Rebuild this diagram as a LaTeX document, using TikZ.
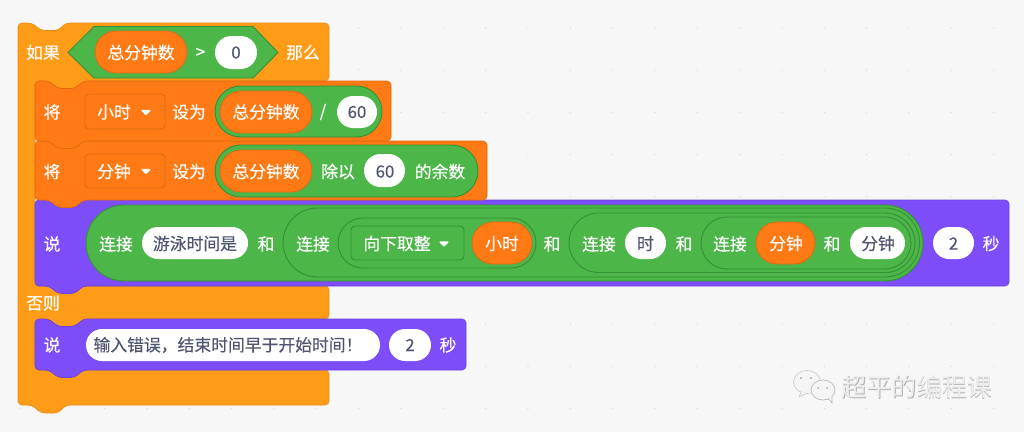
\documentclass[tikz,border=0pt]{standalone}
\usepackage{fontspec}
\setmainfont{Noto Sans CJK SC}
\newfontfamily\medfont[FakeBold=0.35]{Noto Sans CJK SC}
\definecolor{bgc}{HTML}{F7F7F8}
\definecolor{dotc}{HTML}{DADADC}
\definecolor{ctrl}{HTML}{FF9C17}
\definecolor{ctrld}{HTML}{E8891A}
\definecolor{var}{HTML}{FF7A14}
\definecolor{vard}{HTML}{DE6A12}
\definecolor{grn}{HTML}{4DB649}
\definecolor{grnd}{HTML}{369135}
\definecolor{pur}{HTML}{7E4DFA}
\definecolor{purd}{HTML}{6A3FDC}
\definecolor{ink}{HTML}{4F5570}
\newcounter{nn}
\tikzset{
  lbl/.style={text=white,inner sep=0pt,font=\medfont\fontsize{12.6pt}{14pt}\selectfont},
  dlbl/.style={lbl,text=ink},
  ctrlshape/.style={fill=ctrl,draw=ctrld,line width=.5pt,rounded corners=3pt},
  varblock/.style={fill=var,draw=vard,line width=.5pt,rounded corners=3pt},
  purblock/.style={fill=pur,draw=purd,line width=.5pt,rounded corners=3pt},
  greenpill/.style={fill=grn,draw=grnd,line width=.7pt},
  ringpill/.style={draw=grnd,line width=.7pt},
  varpill/.style={fill=var,draw=vard,line width=.6pt},
  whitepill/.style={fill=white,draw=none},
  varmenu/.style={fill=var,draw=vard,line width=.7pt,rounded corners=3pt},
  grnmenu/.style={fill=grn,draw=grnd,line width=.7pt,rounded corners=3pt},
  caret/.style={fill=white,draw=white,line width=.8pt,line join=round},
}
\newcommand\blk[5]{\draw[#5] (#1,#2)--({#1+14},#2)--({#1+23},{#2+7.5})--({#1+40},{#2+7.5})--({#1+48},#2)--(#3,#2)--(#3,#4)--({#1+48},#4)--({#1+40},{#4+7.5})--({#1+23},{#4+7.5})--({#1+14},#4)--(#1,#4)--cycle;}
\newcommand\pill[5]{\pgfmathsetmacro\rr{(#4-#2)/2*0.75}\draw[#5,rounded corners=\rr pt] (#1,#2) rectangle (#3,#4);}
\newcommand\lab[4][lbl]{\stepcounter{nn}\node[#1] (t\thenn) at (#2,#3) {#4};}
\newcommand\care[2]{\draw[caret] ({#1-4},{#2-2}) -- ({#1+4},{#2-2}) -- (#1,{#2+2}) -- cycle;}
\begin{document}
\begin{tikzpicture}[x=.75pt,y=-.75pt]
\useasboundingbox (0,0) rectangle (1024,432);
\fill[bgc] (0,0) rectangle (1024,432);
\foreach \i in {0,...,24}\foreach \j in {0,...,10}
  \fill[dotc] ({20+\i*42.33},{27.7+\j*42.33}) circle (.7);
% C block
\draw[ctrlshape] (18,23)--(32,23)--(41,30.5)--(58,30.5)--(66,23)--(329,23)--(329,81)--(83,81)--(75,89)--(58,89)--(49,81)--(35,81)--(35,286)--(329,286)--(329,319)--(83,319)--(75,327)--(58,327)--(49,319)--(35,319)--(35,370)--(329,370)--(329,405)--(66,405)--(58,413)--(41,413)--(32,405)--(18,405)--cycle;
\lab{43}{52.5}{如果}
\draw[fill=grn,draw=grnd,line width=.7pt,line join=round] (68,52.5)--(94,26.5)--(253,26.5)--(278,52.5)--(253,78)--(94,78)--cycle;
\pill{95}{31}{187}{73}{varpill}
\lab{141}{52.5}{总分钟数}
\lab{200.5}{53}{>}
\pill{215}{36}{257}{69}{whitepill}
\lab[dlbl]{236}{52.5}{0}
\lab{303}{52.5}{那么}
\lab{43}{303}{否则}
% second say
\blk{35}{319}{466}{370}{purblock}
\lab{52}{345}{说}
\pill{86}{329}{380}{361}{whitepill}
\lab[dlbl]{228}{345}{输入错误，结束时间早于开始时间！}
\pill{389}{329}{431}{361}{whitepill}
\lab[dlbl]{410}{345}{2}
\lab{448}{345}{秒}
% say
\blk{35}{200}{1009}{286}{purblock}
\lab{52}{244}{说}
\pill{86}{205}{923}{281}{greenpill}
\pill{283}{208}{919.5}{277}{ringpill}
\pill{338}{218}{536}{268}{ringpill}
\pill{569}{213}{915}{272.5}{ringpill}
\pill{701}{217}{911}{269}{ringpill}
\lab{116}{244}{连接}
\pill{142}{227}{248}{259}{whitepill}
\lab[dlbl]{195}{243.5}{游泳时间是}
\lab{266}{244}{和}
\lab{313}{244}{连接}
\draw[grnmenu] (351,226) rectangle (464,260);
\lab{397}{243.5}{向下取整}
\care{444}{244}
\pill{472}{222}{532}{264}{varpill}
\lab{502}{243.5}{小时}
\lab{552}{244}{和}
\lab{599}{244}{连接}
\pill{625}{227}{666}{259}{whitepill}
\lab[dlbl]{645.5}{243.5}{时}
\lab{684}{244}{和}
\lab{730}{244}{连接}
\pill{756}{222}{815}{264}{varpill}
\lab{786}{243.5}{分钟}
\lab{832}{244}{和}
\pill{850}{227}{905}{259}{whitepill}
\lab[dlbl]{878}{243.5}{分钟}
\pill{933}{227}{974}{259}{whitepill}
\lab[dlbl]{953.5}{243.5}{2}
\lab{991}{243.5}{秒}
% set 2
\blk{35}{141}{487}{200}{varblock}
\lab{52}{171.5}{将}
\draw[varmenu] (85,154) rectangle (165,188);
\lab{114}{171.5}{分钟}
\care{146}{171.5}
\lab{189}{171.5}{设为}
\pill{215}{145}{478}{197}{greenpill}
\pill{220}{150}{312}{192}{varpill}
\lab{266}{171.5}{总分钟数}
\lab{338}{171.5}{除以}
\pill{364}{154}{405}{187}{whitepill}
\lab[dlbl]{385}{171.5}{60}
\lab{440}{171.5}{的余数}
% set 1
\blk{35}{81}{391}{141}{varblock}
\lab{52}{112}{将}
\draw[varmenu] (85,94) rectangle (165,129);
\lab{114}{112}{小时}
\care{146}{112.5}
\lab{189}{112}{设为}
\pill{215}{86}{382}{137}{greenpill}
\pill{220}{91}{312}{133}{varpill}
\lab{266}{112}{总分钟数}
\lab{323}{112}{/}
\pill{337}{96}{377}{128}{whitepill}
\lab[dlbl]{357}{112}{60}
% watermark
\draw[fill=white!96!black,draw=black!20,line width=.5pt] (807,382) ellipse (13.5 and 11.5);
\draw[fill=white!96!black,draw=black!20,line width=.5pt] (801,392)--(799,397)--(807,393);
\draw[fill=white!96!black,draw=black!28,line width=.5pt] (823,390) ellipse (12 and 10);
\draw[fill=white!96!black,draw=black!28,line width=.5pt] (828,398)--(832,403)--(832,396);
\fill[black!32] (801,378) circle (1.2) (811,378) circle (1.2) (818,388) circle (1) (827,388) circle (1);
\node[inner sep=0pt,text=black!30,font=\fontsize{18.8pt}{20pt}\selectfont] (wmb) at (917.6,387.6) {超平的编程课};
\node[inner sep=0pt,text=white!93!black,font=\fontsize{18.8pt}{20pt}\selectfont] (wm) at (917,387) {超平的编程课};
\end{tikzpicture}
\end{document}
